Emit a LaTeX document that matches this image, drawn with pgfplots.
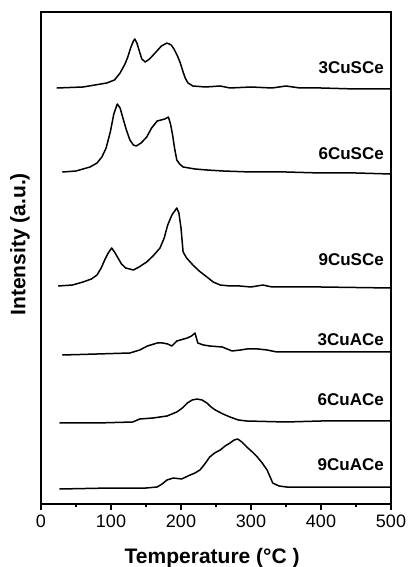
\documentclass[border=0pt]{standalone}
\usepackage{pgfplots}
\pgfplotsset{compat=1.18}
\usepackage{fontspec}
\setmainfont{Liberation Sans}
\usetikzlibrary{calc}
\begin{document}
\begin{tikzpicture}
\begin{axis}[
  scale only axis,
  width=350pt, height=492pt,
  xmin=0, xmax=500, ymin=0, ymax=492,
  xtick={0,100,...,500},
  minor x tick num=1,
  ytick=\empty,
  xtick pos=bottom,
  tick align=outside,
  major tick length=6pt,
  minor tick length=3pt,
  axis line style={line width=1.2pt},
  every tick/.style={line width=1.2pt, black},
  /pgf/number format/assume math mode=true,
  ticklabel style={font=\fontsize{18}{20}\selectfont},
  xticklabel style={yshift=-1pt},
  xlabel={\bfseries Temperature (°C )},
  ylabel={\bfseries Intensity (a.u.)},
  xlabel style={font=\fontsize{21}{24}\selectfont, at={(rel axis cs:0.489,0)}, anchor=center, yshift=-54pt},
  ylabel style={font=\fontsize{21}{24}\selectfont, at={(rel axis cs:0,0.528)}, anchor=center, yshift=21pt},
  cycle list={{black, no markers, solid}},
  every axis plot post/.append style={line width=1.5pt, line join=round, line cap=round},
  clip=false,
]
\coordinate (bl) at (rel axis cs:0,0);
\coordinate (tr) at (rel axis cs:1,1);
% 3CuSCe
\addplot table {
23 416
60 417
94 421
105 424
113 431
120 440
124 447
128 456
132 463
134 465
137 461
140 454
144 445
149 442
155 445
163 451
172 458
180 461
186 459
190 455
195 448
199 441
203 432
206 426
210 421
217 418
235 417
256 418
270 416
300 417
330 416
350 418
370 416
400 416
450 415
500 415
};
% 6CuSCe
\addplot table {
31 332
50 333
70 337
80 341
87 347
93 356
99 372
104 390
109 400
113 396
117 386
122 374
127 364
132 359
136 358
143 361
151 367
158 376
166 383
177 385
182 387
185 380
188 369
191 355
194 344
198 340
203 337
220 335
237 334
260 333
300 332
350 332
400 331
450 331
500 330
};
% 9CuSCe
\addplot table {
25 218
45 219
60 222
72 225
80 229
86 236
91 244
96 251
101 256
105 252
110 246
115 240
121 236
132 234
140 237
151 242
160 248
170 256
176 266
181 279
187 289
194 296
197 291
200 276
203 252
208 246
217 239
226 233
237 227
246 222
256 219
270 218
284 218
300 217
317 219
330 217
400 217
500 216
};
% 3CuACe
\addplot table {
31 149
80 150
127 151
141 154
152 158
166 161
174 161
181 160
187 158
194 163
209 166
215 168
220 171
222 166
224 161
232 159
241 158
259 157
266 155
273 153
285 154
294 155
310 155
323 154
337 152
400 152
500 152
};
% 6CuACe
\addplot table {
27 81
80 81
131 82
141 85
160 86
180 88
194 92
202 96
209 101
216 104
223 105
230 104
237 101
243 97
249 94
260 90
270 87
282 84
294 83
350 82
400 83
500 83
};
% 9CuACe
\addplot table {
27 15
100 16
150 16
166 17
173 20
180 24
189 26
201 25
207 27
213 29
220 31
227 34
234 40
241 47
248 51
256 54
263 58
270 61
276 64
281 65
287 62
294 57
302 52
309 47
316 41
323 34
328 26
331 21
340 18
351 17
400 17
500 17
};
\begin{scope}[every node/.style={anchor=east, font=\bfseries\fontsize{17}{20}\selectfont, inner sep=0pt}]
\node at (axis cs:490,436) {3CuSCe};
\node at (axis cs:490,350.5) {6CuSCe};
\node at (axis cs:490,244) {9CuSCe};
\node at (axis cs:490,164) {3CuACe};
\node at (axis cs:490,104) {6CuACe};
\node at (axis cs:490,39) {9CuACe};
\end{scope}
\end{axis}
\pgfresetboundingbox
\path[use as bounding box] ($(bl)+(-41pt,-63pt)$) rectangle ($(tr)+(16pt,12pt)$);
\end{tikzpicture}
\end{document}
